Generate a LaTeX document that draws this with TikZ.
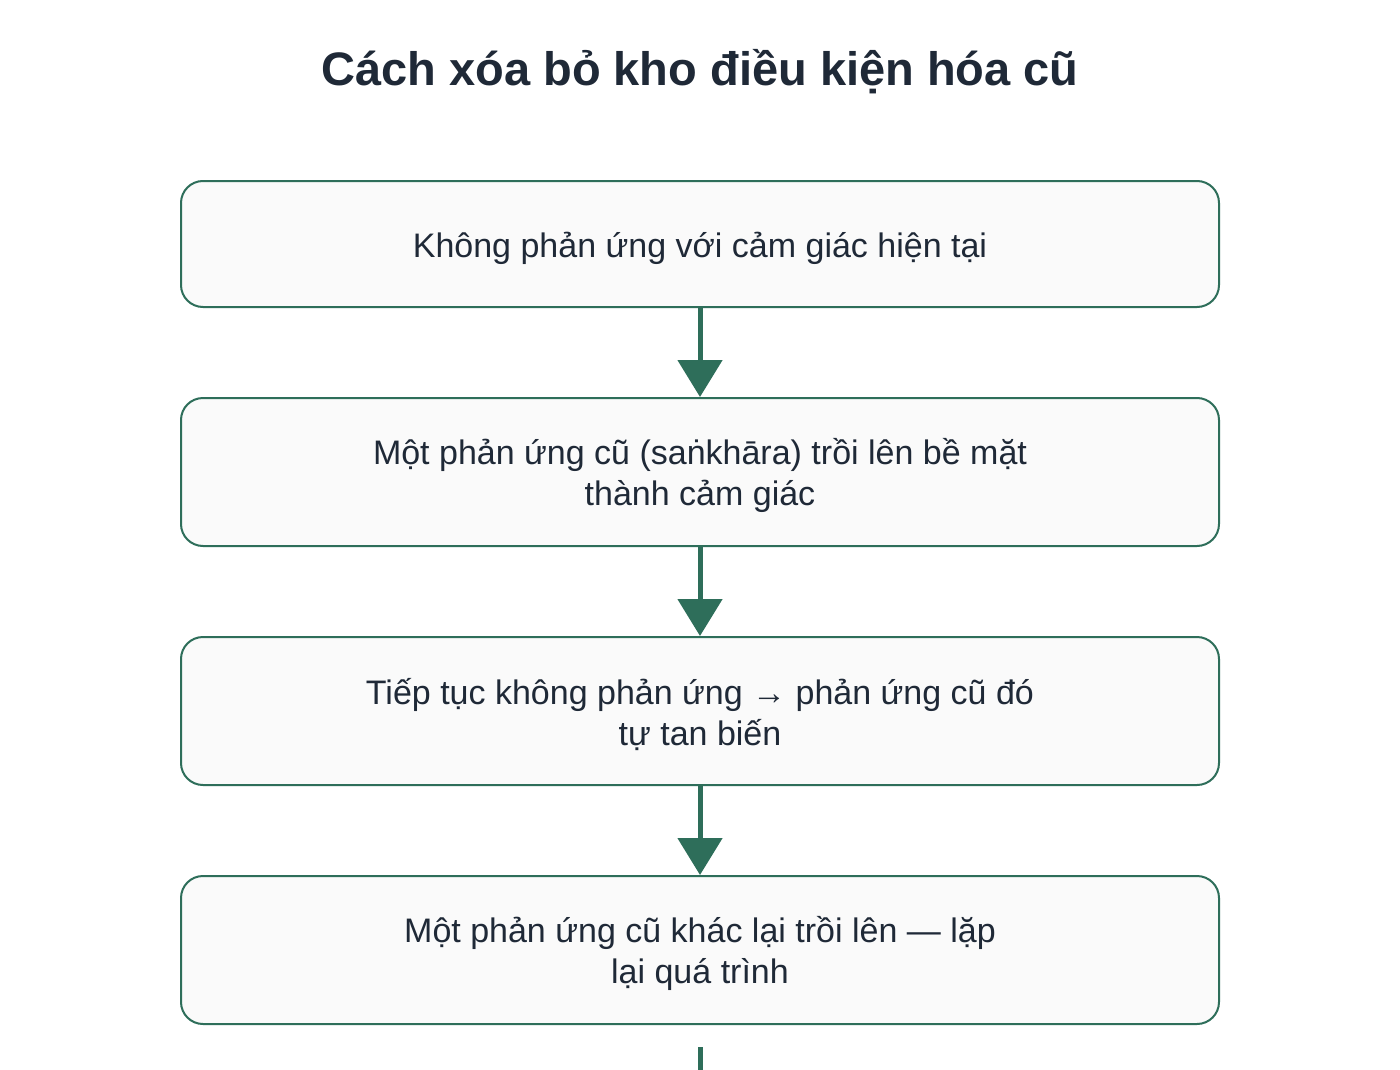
\documentclass[tikz,border=0pt]{standalone}
\usepackage{fontspec}
\setmainfont{Liberation Sans}
\usetikzlibrary{arrows.meta}
\definecolor{edge}{HTML}{2E6E5A}
\definecolor{boxfill}{HTML}{FAFAFA}
\definecolor{ink}{HTML}{1F2937}
\tikzset{
  stepbox/.style={draw=edge, line width=2pt, fill=boxfill, rounded corners=22pt,
    minimum width=1038pt, inner sep=0pt},
  steptext/.style={align=center, text=ink, font=\fontsize{34}{41}\selectfont, inner sep=0pt},
  flow/.style={draw=edge, line width=5pt, -{Triangle[width=44pt,length=37pt]}},
  tail/.style={draw=edge, line width=5pt},
}
\begin{document}
\begin{tikzpicture}[x=1pt,y=-1pt]
\useasboundingbox[fill=white] (0,0) rectangle (1400,1070);
\node[font=\fontsize{47}{56}\selectfont\bfseries, text=ink] (title) at (700,72) {Cách xóa bỏ kho điều kiện hóa cũ};
\node[stepbox, minimum height=126pt] (b1) at (700,244) {};
\node[stepbox, minimum height=148pt] (b2) at (700,472) {};
\node[stepbox, minimum height=148pt] (b3) at (700,711) {};
\node[stepbox, minimum height=148pt] (b4) at (700,950) {};
\node[steptext] (l1) at ([yshift=-4pt]b1.center) {Không phản ứng với cảm giác hiện tại};
\node[steptext] (l2) at ([yshift=-3.5pt]b2.center) {Một phản ứng cũ (saṅkhāra) trồi lên bề mặt\\thành cảm giác};
\node[steptext] (l3) at ([yshift=-3.5pt]b3.center) {Tiếp tục không phản ứng → phản ứng cũ đó\\tự tan biến};
\node[steptext] (l4) at ([yshift=-3.5pt]b4.center) {Một phản ứng cũ khác lại trồi lên — lặp\\lại quá trình};
\draw[flow] (b1.south) -- (b2.north);
\draw[flow] (b2.south) -- (b3.north);
\draw[flow] (b3.south) -- (b4.north);
\coordinate (t1) at (700,1047);
\coordinate (t2) at (700,1080);
\draw[tail] (t1) -- (t2);
\end{tikzpicture}
\end{document}
